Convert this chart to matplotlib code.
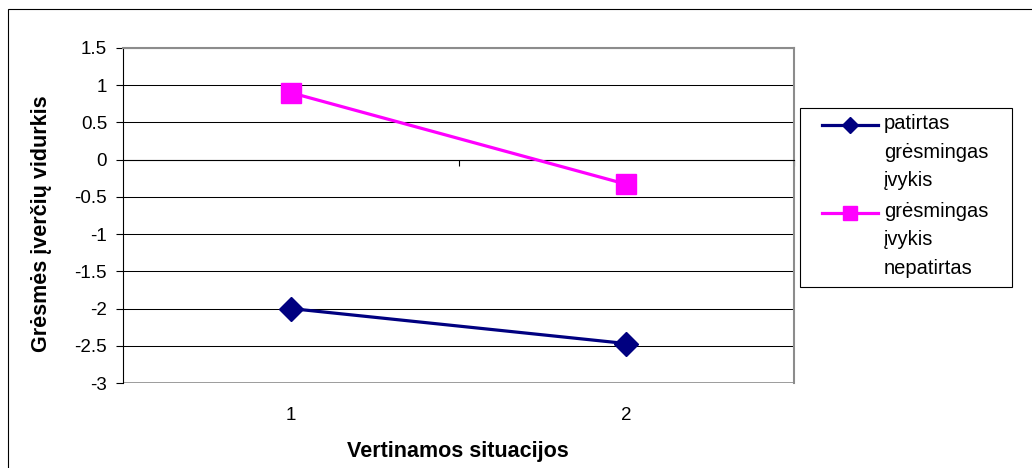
import matplotlib
matplotlib.use('Agg')
import matplotlib.pyplot as plt
from matplotlib.lines import Line2D
from matplotlib.patches import Rectangle

plt.rcParams['font.family'] = ['Liberation Sans', 'DejaVu Sans']
plt.rcParams['axes.unicode_minus'] = False

W, H = 1032, 468

# data
situations = [1, 2]
situation_labels = ['1', '2']
experienced = [-2.0, -2.47]
not_experienced = [0.9, -0.33]
series_names = ['patirtas\ngrėsmingas\nįvykis', 'grėsmingas\nįvykis\nnepatirtas']
series_colors = ['#000080', '#FF00FF']
series_markers = ['D', 's']
y_ticks = [1.5, 1, 0.5, 0, -0.5, -1, -1.5, -2, -2.5, -3]
y_tick_labels = ['1.5', '1', '0.5', '0', '-0.5', '-1', '-1.5', '-2', '-2.5', '-3']


def fx(x):
    return x / W


def fy(y):
    return 1 - y / H


fig = plt.figure(figsize=(W / 100, H / 100), dpi=100)

# outer chart frame (runs off the right/bottom edge)
fig.add_artist(Rectangle((fx(8), -0.1), 1.2, fy(9) + 0.1, fill=False,
                         edgecolor='black', linewidth=0.8,
                         transform=fig.transFigure))

ax = fig.add_axes([fx(123), fy(383), (794 - 123) / W, (383 - 48) / H])
ax.set_xlim(0.5, 2.5)
ax.set_ylim(-3, 1.5)

ax.set_yticks(y_ticks, labels=y_tick_labels)
ax.yaxis.grid(True, color='black', linewidth=0.75)
ax.set_axisbelow(True)
ax.tick_params(axis='y', length=5, width=0.8, pad=6.5, labelsize=13.5,
               direction='out')
ax.axhline(-3, color='#8c8c8c', linewidth=1.2, zorder=1.5)

for side in ['top', 'right']:
    ax.spines[side].set_color('#8c8c8c')
    ax.spines[side].set_linewidth(1.5)
ax.spines['left'].set_linewidth(0.8)
ax.spines['bottom'].set_position(('data', 0))
ax.spines['bottom'].set_linewidth(0.8)

# category boundary ticks on the axis crossing at 0
ax.set_xticks([1.5, 2.5])
ax.tick_params(axis='x', length=4, width=0.8, labelbottom=False,
               direction='out')

# category labels at the low end
secax = ax.secondary_xaxis(0.0)
secax.set_xticks(situations, labels=situation_labels)
secax.tick_params(length=0, pad=17, labelsize=13.5)
secax.spines['bottom'].set_visible(False)

ax.plot(situations, experienced, color=series_colors[0], linewidth=2.3,
        marker=series_markers[0], markersize=12, zorder=3)
ax.plot(situations, not_experienced, color=series_colors[1], linewidth=2.3,
        marker=series_markers[1], markersize=14.5, zorder=3)

fig.text(fx(42), fy(224), 'Grėsmės įverčių vidurkis', rotation=90,
         ha='center', va='center', fontsize=15.5, fontweight='bold')
fig.text(fx(458), fy(452), 'Vertinamos situacijos', ha='center',
         va='center', fontsize=15.5, fontweight='bold')

# legend, drawn by hand so the key sits on the first text line
fig.add_artist(Rectangle((fx(800), fy(287)), (1012 - 800) / W,
                         (287 - 108) / H, facecolor='white',
                         edgecolor='black', linewidth=0.8,
                         transform=fig.transFigure))
key_rows = [125, 213]
marker_sizes = [8, 9.5]
for name, color, marker, row, ms in zip(series_names, series_colors,
                                        series_markers, key_rows,
                                        marker_sizes):
    fig.add_artist(Line2D([fx(822), fx(878)], [fy(row), fy(row)],
                          color=color, linewidth=2.3,
                          transform=fig.transFigure))
    fig.add_artist(Line2D([fx(850)], [fy(row)], color=color, marker=marker,
                          markersize=ms, transform=fig.transFigure))
    fig.text(fx(884), fy(row + 27), name, ha='left', va='center',
             fontsize=14.5, linespacing=1.62)

fig.savefig('out.png', dpi=100)
